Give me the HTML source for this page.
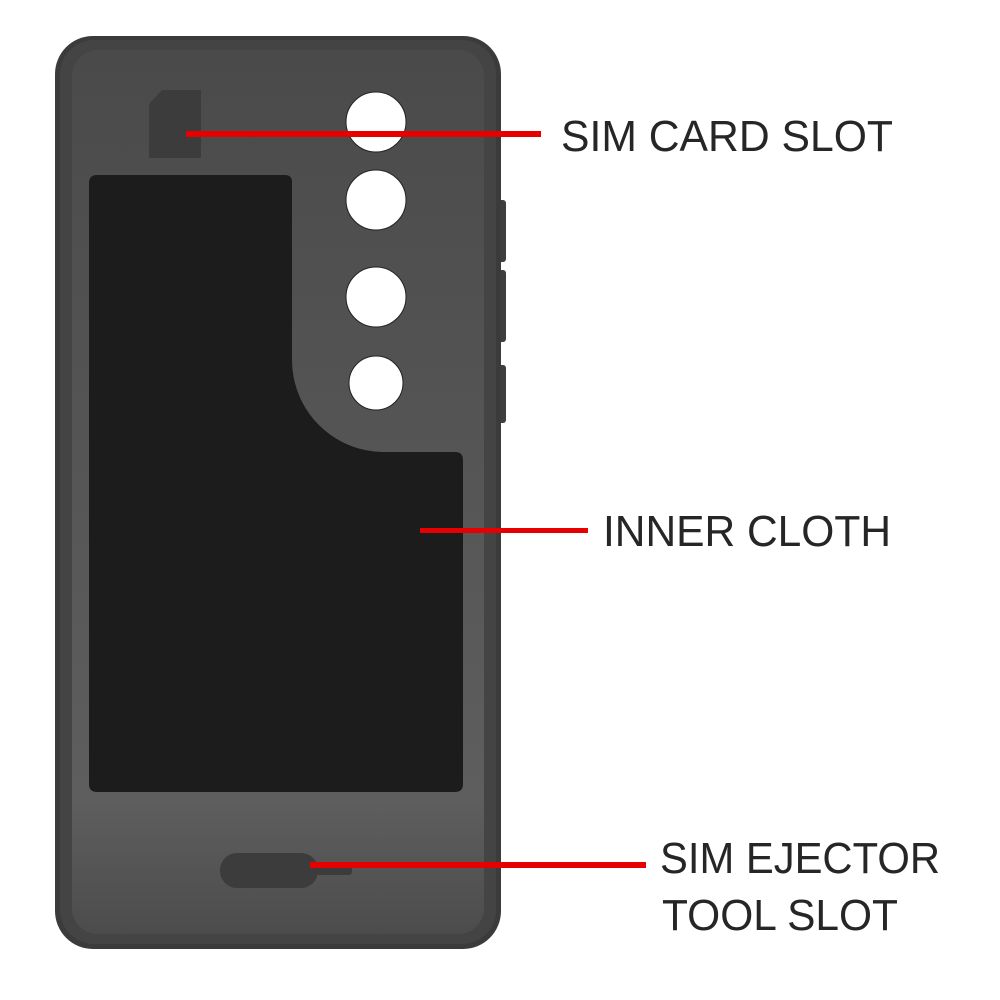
<!DOCTYPE html>
<html><head><style>html,body{margin:0;padding:0;background:#fff;width:1000px;height:1000px;overflow:hidden}</style></head>
<body>
<svg width="1000" height="1000" viewBox="0 0 1000 1000" xmlns="http://www.w3.org/2000/svg">
<defs>
<linearGradient id="g" x1="0" y1="0" x2="0" y2="1">
<stop offset="0" stop-color="#4a4a4a"/><stop offset="0.5" stop-color="#565656"/><stop offset="0.85" stop-color="#5e5e5e"/><stop offset="1" stop-color="#4c4c4c"/></linearGradient>
</defs>
<!-- side buttons -->
<rect x="494" y="200" width="12" height="62" rx="3" fill="#3e3e3e"/>
<rect x="494" y="270" width="12" height="72" rx="3" fill="#3e3e3e"/>
<rect x="494" y="365" width="12" height="58" rx="3" fill="#3e3e3e"/>
<!-- case -->
<rect x="55" y="36" width="446" height="913" rx="38" fill="#3b3b3b"/>
<rect x="60" y="40" width="436" height="904" rx="34" fill="#444"/>
<rect x="72" y="50" width="412" height="884" rx="26" fill="url(#g)"/>
<!-- cloth -->
<path d="M97,175 H285 Q292,175 292,182 V360 A92,92 0 0 0 384,452 H455 Q463,452 463,460 V784 Q463,792 455,792 H97 Q89,792 89,784 V183 Q89,175 97,175 Z" fill="#1c1c1c"/>
<!-- sim slot -->
<path d="M162,90 H201 V158 H149 V104 Z" fill="#3c3c3c"/>
<!-- holes -->
<circle cx="376" cy="122" r="30" fill="#fff" stroke="#222" stroke-width="1"/>
<circle cx="376" cy="200" r="30" fill="#fff" stroke="#222" stroke-width="1"/>
<circle cx="376" cy="297" r="30" fill="#fff" stroke="#222" stroke-width="1"/>
<circle cx="376" cy="383" r="27" fill="#fff" stroke="#222" stroke-width="1"/>
<!-- ejector slot -->
<rect x="220" y="853" width="98" height="35" rx="17" fill="#3c3c3c"/>
<rect x="300" y="866" width="52" height="9" rx="3" fill="#3c3c3c"/>
<!-- red lines -->
<rect x="186" y="131" width="355" height="6" fill="#e60000"/>
<rect x="420" y="528" width="168" height="5" fill="#e60000"/>
<rect x="310" y="862" width="336" height="6" fill="#e60000"/>
<!-- labels -->
<g font-family="Liberation Sans, sans-serif" font-size="44" fill="#262626">
<text x="561" y="151" textLength="332" lengthAdjust="spacingAndGlyphs">SIM CARD SLOT</text>
<text x="603" y="546" textLength="288" lengthAdjust="spacingAndGlyphs">INNER CLOTH</text>
<text x="660" y="873" textLength="280" lengthAdjust="spacingAndGlyphs">SIM EJECTOR</text>
<text x="662" y="930" textLength="236" lengthAdjust="spacingAndGlyphs">TOOL SLOT</text>
</g>
</svg>
</body></html>
